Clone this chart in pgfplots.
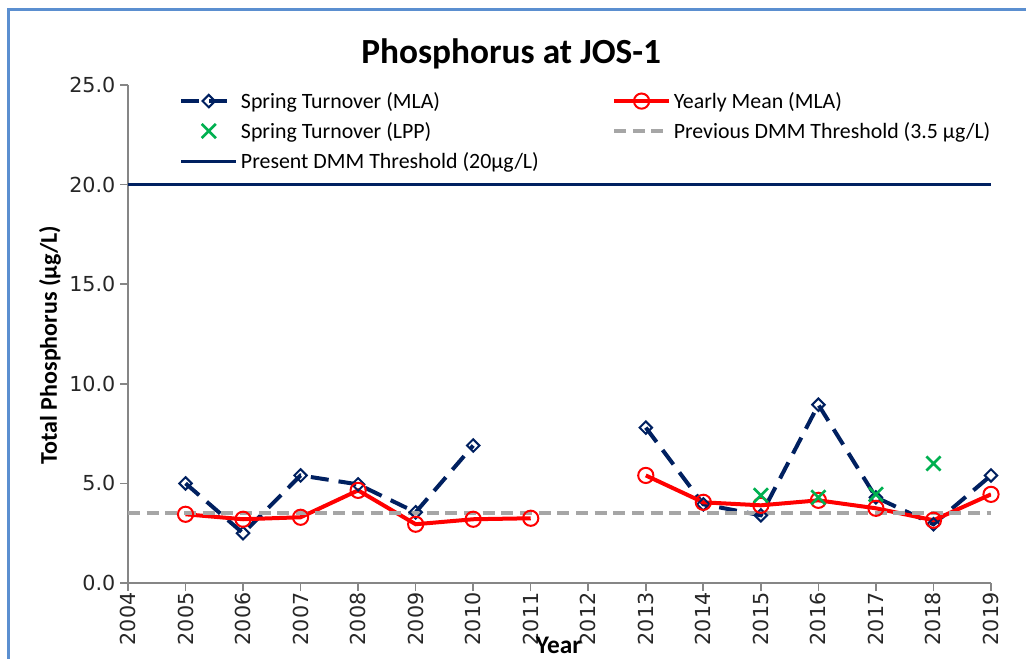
\documentclass[border=0pt]{standalone}
\usepackage{pgfplots}
\pgfplotsset{compat=1.18}
\usepackage{pgfplotstable}
\usepackage{fontspec}
\setmainfont{Carlito}
\newfontfamily\tickfont{DejaVu Sans}
\definecolor{navy}{HTML}{002060}
\definecolor{tpred}{HTML}{FF0000}
\definecolor{lppgreen}{HTML}{00B050}
\definecolor{thgray}{HTML}{A6A6A6}
\definecolor{axgray}{HTML}{868686}
\definecolor{framecol}{HTML}{5B8FD0}
\definecolor{txt}{HTML}{262626}

\pgfplotstableread{
year spring mean
2005 5.0  3.45
2006 2.5  3.2
2007 5.4  3.3
2008 4.95 4.65
2009 3.55 2.95
2010 6.9  3.2
2011 nan  3.25
2012 nan  nan
2013 7.8  5.4
2014 3.95 4.05
2015 3.4  3.9
2016 8.95 4.15
2017 4.3  3.75
2018 2.95 3.15
2019 5.4  4.45
}\mladata

\pgfplotstableread{
year lpp
2015 4.4
2016 4.3
2017 4.45
2018 6.0
}\lppdata

\pgfplotstableread{
year val
2004 3.5
2019 3.5
}\prevth

\pgfplotstableread{
year val
2004 20
2019 20
}\presth

\begin{document}
\begin{tikzpicture}
\useasboundingbox (0pt,0pt) rectangle (769.5pt,-494.25pt);
\draw[framecol, line width=2.25pt] (6pt,-500pt) -- (6pt,-7.5pt) -- (775pt,-7.5pt);
\begin{axis}[
  at={(96pt,-437.25pt)}, anchor=south west,
  scale only axis, width=647.25pt, height=373.5pt,
  xmin=2004, xmax=2019, ymin=0, ymax=25,
  xtick={2004,...,2019}, ytick={0,5,...,25},
  axis x line*=bottom, axis y line*=left,
  axis line style={draw=axgray, line width=1.5pt},
  every tick/.style={draw=axgray, line width=1.2pt},
  tick align=outside, major tick length=6pt,
  /pgf/number format/assume math mode=true,
  xticklabel style={rotate=90, anchor=east, inner sep=1pt, /pgf/number format/1000 sep={}, font=\tickfont\fontsize{15.5}{15.5}\selectfont, text=txt},
  yticklabel style={/pgf/number format/fixed, /pgf/number format/fixed zerofill, /pgf/number format/precision=1, font=\tickfont\fontsize{15.5}{15.5}\selectfont, text=txt},
  unbounded coords=jump,
  title={Phosphorus at JOS-1},
  title style={at={(axis description cs:0.444,1.047)}, anchor=center, font=\fontsize{26.5}{26.5}\selectfont\bfseries},
  xlabel={Year},
  xlabel style={at={(axis description cs:0.499,-0.1245)}, anchor=center, inner sep=0pt, font=\fontsize{19}{19}\selectfont\bfseries},
  ylabel={Total Phosphorus (µg/L)},
  ylabel style={at={(axis description cs:-0.0904,0.478)}, anchor=center, rotate=0, font=\fontsize{18}{18}\selectfont\bfseries},
  legend columns=2,
  legend cell align=left,
  legend image code/.code={\draw[mark repeat=2,mark phase=2] plot coordinates {(0pt,0pt)(20.6pt,0pt)(41.25pt,0pt)};},
  legend style={draw=none, fill=none, at={(axis description cs:0.0545,0.997)}, anchor=north west,
     font=\fontsize{16.4}{16.4}\selectfont, row sep=5pt,
     /tikz/column 2/.style={column sep=53pt}},
]
\addplot[navy, line width=3pt, dash pattern=on 13.5pt off 7.5pt, mark=square, mark size=3.3pt,
  mark options={solid, rotate=45, line width=1.5pt, fill=white}] table[x=year,y=spring] {\mladata};
\addlegendentry{Spring Turnover (MLA)}
\addplot[tpred, line width=3pt, mark=o, mark size=5.7pt, mark options={solid, line width=1.5pt}] table[x=year,y=mean] {\mladata};
\addlegendentry{Yearly Mean (MLA)}
\addplot[lppgreen, only marks, mark=x, mark size=7.5pt, mark options={line width=2pt}] table[x=year,y=lpp] {\lppdata};
\addlegendentry{Spring Turnover (LPP)}
\addplot[thgray, line width=3pt, dash pattern=on 9pt off 5pt] table[x=year,y=val] {\prevth};
\addlegendentry{Previous DMM Threshold (3.5 µg/L)}
\addplot[navy, line width=2.25pt] table[x=year,y=val] {\presth};
\addlegendentry{Present DMM Threshold (20µg/L)}
\end{axis}
\end{tikzpicture}
\end{document}
